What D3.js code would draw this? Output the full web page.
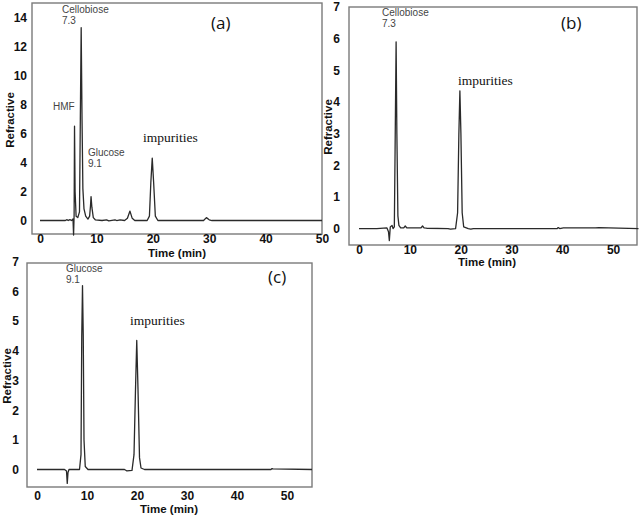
<!DOCTYPE html>
<html>
<head>
<meta charset="utf-8">
<script src="https://cdn.jsdelivr.net/npm/d3@7"></script>
<style>
  html, body { margin: 0; padding: 0; background: #fff; }
  svg { display: block; }
</style>
</head>
<body>
<svg id="chart" width="640" height="518"></svg>
<script>
// ---------- DATA ----------
// Panel (a): time (min), refractive signal
const traceA = [
  [0,0],[4.5,0],[4.8,0.06],[5.0,0],[5.3,0.06],[5.6,0.0],[5.85,0.1],[5.95,-1.0],[6.05,0.4],[6.12,6.5],
  [6.22,2.0],[6.4,0.3],[6.7,0.2],[7.0,0.6],[7.15,7.0],[7.3,13.3],[7.45,7.0],[7.6,2.2],[7.8,0.8],
  [8.1,0.3],[8.5,0.1],[8.8,0.3],[8.95,1.0],[9.05,1.65],[9.2,0.9],[9.45,0.2],[9.8,0.05],[11,0],
  [11.8,0.05],[12.2,-0.02],[13.3,0.05],[13.6,0],[14.2,0.05],[15,0],[15.5,0.15],[15.95,0.65],
  [16.35,0.15],[16.8,0],[19,0],[19.4,0.3],[19.65,2.6],[19.9,4.3],[20.15,2.6],[20.45,0.3],
  [20.9,0],[29,0],[29.5,0.2],[30,0.05],[30.5,0],[50,0]
];
// Panel (b)
const traceB = [
  [0,0],[3.5,0],[5.5,0.02],[5.8,-0.1],[5.97,-0.38],[6.15,0.05],[6.5,0.1],[6.7,0.0],[6.95,0.05],
  [7.1,2.5],[7.3,5.9],[7.45,3.0],[7.65,0.4],[7.85,0.1],[8.2,0.02],[8.8,0.02],[9.1,0.08],[9.4,0.02],
  [12.2,0.02],[12.5,0.08],[12.8,0.02],[13.3,0.01],[17.5,0],[18,-0.02],[19,0.0],[19.4,0.5],
  [19.65,3.0],[19.85,4.35],[20.05,3.0],[20.3,0.5],[20.6,0.05],[21.5,0.0],[22,-0.02],[22.5,0],
  [39,0],[39.2,0.03],[39.5,0],[40.2,0.02],[43,0.02],[46.5,0.02],[47.2,0.03],[55,0]
];
// Panel (c)
const traceC = [
  [0,0],[5.5,0],[5.9,-0.05],[6.05,-0.47],[6.2,-0.1],[6.4,0],[8.5,0],[8.8,0.5],[8.95,4.5],[9.1,6.2],
  [9.25,4.5],[9.4,1.0],[9.65,0.1],[10.2,0],[17.5,0],[18,-0.05],[19,-0.03],[19.4,0.5],[19.7,2.7],
  [19.95,4.35],[20.2,2.7],[20.5,0.4],[20.8,0.05],[21.5,0],[46.8,0],[47,0.03],[47.2,0.02],[55,0]
];

const xTicks = [0, 10, 20, 30, 40, 50];
const yTicksA = [0, 2, 4, 6, 8, 10, 12, 14];
const yTicksBC = [0, 1, 2, 3, 4, 5, 6, 7];

const xTitle = "Time (min)";
const yTitle = "Refractive";
const panelTags = ["(a)", "(b)", "(c)"];
const annotationsA = [["HMF"], ["Cellobiose", "7.3"], ["Glucose", "9.1"]];
const annotationsB = [["Cellobiose", "7.3"]];
const annotationsC = [["Glucose", "9.1"]];
const impurityLabel = "impurities";

// ---------- LAYOUT ----------
const panels = [
  { data: traceA, yTicks: yTicksA, tag: panelTags[0],
    box: { x0: 32, x1: 322, y0: 3, y1: 234 },
    xDom: [-1.42, 50], yDom: [-0.93, 15],
    yPad: 5, xPad: 0,
    xTitle: { x: 177, y: 257 }, yTitle: { x: 14, y: 120 },
    tagPos: { x: 211, y: 29 },
    impur: { x: 143, y: 142 },
    notes: [
      { lines: annotationsA[0], x: 53, y: 110 },
      { lines: annotationsA[1], x: 62, y: 13 },
      { lines: annotationsA[2], x: 88, y: 156 }
    ] },
  { data: traceB, yTicks: yTicksBC, tag: panelTags[1],
    box: { x0: 349, x1: 637, y0: 7, y1: 245 },
    xDom: [-1.97, 54.7], yDom: [-0.52, 7],
    yPad: 9, xPad: 0,
    xTitle: { x: 487, y: 266 }, yTitle: { x: 332, y: 127 },
    tagPos: { x: 561, y: 29 },
    impur: { x: 458, y: 85 },
    notes: [
      { lines: annotationsB[0], x: 382, y: 16 }
    ] },
  { data: traceC, yTicks: yTicksBC, tag: panelTags[2],
    box: { x0: 27, x1: 312, y0: 263, y1: 487 },
    xDom: [-2, 55], yDom: [-0.59, 6.96],
    yPad: 8, xPad: 4.5,
    xTitle: { x: 169, y: 513 }, yTitle: { x: 11, y: 376 },
    tagPos: { x: 268, y: 283 },
    impur: { x: 130, y: 325 },
    notes: [
      { lines: annotationsC[0], x: 66, y: 272 }
    ] }
];

const svg = d3.select("#chart");
const sans = "'Liberation Sans', Arial, sans-serif";

panels.forEach(p => {
  const b = p.box;
  const x = d3.scaleLinear().domain(p.xDom).range([b.x0, b.x1]);
  const y = d3.scaleLinear().domain(p.yDom).range([b.y1, b.y0]);
  const g = svg.append("g");

  // frame
  g.append("rect")
    .attr("x", b.x0).attr("y", b.y0)
    .attr("width", b.x1 - b.x0).attr("height", b.y1 - b.y0)
    .attr("fill", "none").attr("stroke", "#7a7a7a").attr("stroke-width", 1.4);

  // y axis
  const ya = g.append("g").attr("transform", `translate(${b.x0},0)`)
    .call(d3.axisLeft(y).tickValues(p.yTicks).tickSize(0).tickPadding(p.yPad).tickFormat(d3.format("d")));
  ya.select(".domain").remove();
  ya.selectAll("text").attr("font-family", sans).attr("font-size", 12)
    .attr("font-weight", "bold").attr("fill", "#111");

  // x axis
  const xa = g.append("g").attr("transform", `translate(0,${b.y1})`)
    .call(d3.axisBottom(x).tickValues(xTicks).tickSize(0).tickPadding(p.xPad).tickFormat(d3.format("d")));
  xa.select(".domain").remove();
  xa.selectAll("text").attr("font-family", sans).attr("font-size", 12)
    .attr("font-weight", "bold").attr("fill", "#111");

  // axis titles
  g.append("text").text(xTitle)
    .attr("x", p.xTitle.x).attr("y", p.xTitle.y).attr("text-anchor", "middle")
    .attr("font-family", sans).attr("font-size", 11.5).attr("font-weight", "bold").attr("fill", "#111");
  g.append("text").text(yTitle)
    .attr("transform", `translate(${p.yTitle.x},${p.yTitle.y}) rotate(-90)`)
    .attr("text-anchor", "middle")
    .attr("font-family", sans).attr("font-size", 11.5).attr("font-weight", "bold").attr("fill", "#111");

  // trace
  const line = d3.line().x(d => x(d[0])).y(d => y(d[1]));
  g.append("path").datum(p.data)
    .attr("d", line).attr("fill", "none")
    .attr("stroke", "#2a2a2a").attr("stroke-width", 1.3).attr("stroke-linejoin", "round");

  // annotations
  p.notes.forEach(n => {
    n.lines.forEach((t, i) => {
      g.append("text").text(t)
        .attr("x", n.x).attr("y", n.y + i * 11)
        .attr("font-family", sans).attr("font-size", 10).attr("fill", "#444");
    });
  });
  g.append("text").text(impurityLabel)
    .attr("x", p.impur.x).attr("y", p.impur.y)
    .attr("font-family", "'Liberation Serif', 'Times New Roman', serif")
    .attr("font-size", 13.5).attr("fill", "#111");
  g.append("text").text(p.tag)
    .attr("x", p.tagPos.x).attr("y", p.tagPos.y)
    .attr("font-family", "'Open Sans', 'Liberation Sans', sans-serif")
    .attr("font-size", 17).attr("fill", "#111");
});
</script>
</body>
</html>
